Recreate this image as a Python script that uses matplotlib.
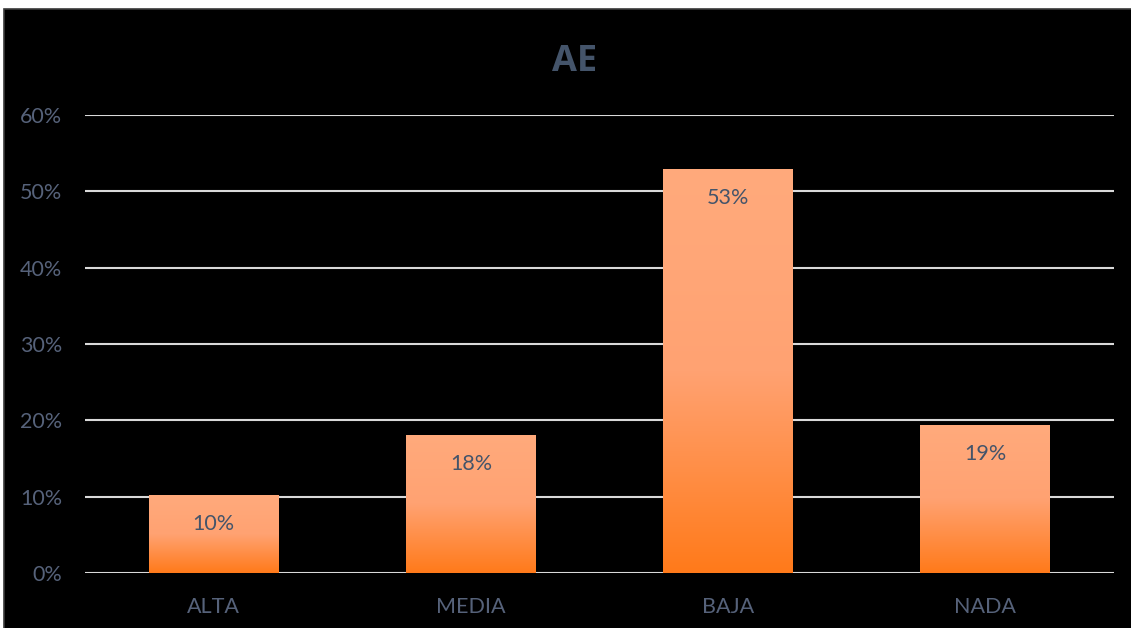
import numpy as np
import matplotlib
matplotlib.use("Agg")
import matplotlib.pyplot as plt
from matplotlib.colors import LinearSegmentedColormap
from matplotlib.patches import Rectangle
from matplotlib.ticker import FuncFormatter

# Data
categories = ["ALTA", "MEDIA", "BAJA", "NADA"]
values = [0.102, 0.181, 0.529, 0.194]
labels = ["10%", "18%", "53%", "19%"]
yticks = [0.0, 0.1, 0.2, 0.3, 0.4, 0.5, 0.6]

text_col = "#44546A"
tick_col = "#56627A"
grid_col = "#D9D9D9"
grad = LinearSegmentedColormap.from_list("orange_grad", ["#FF7A1A", "#FFA272", "#FFAA7C"])

plt.rcParams['font.family'] = ['Lato', 'DejaVu Sans']

fig = plt.figure(figsize=(11.31, 6.28), dpi=100)
fig.patch.set_facecolor("white")

# black chart area with thin grey edge (only top/left visible)
fig.patches.append(Rectangle((3.5 / 1131, -0.05), 1.1, 1.05 - 9.5 / 628, transform=fig.transFigure,
                             facecolor="black", edgecolor="#3A3A3A", linewidth=1.2, zorder=-10))

ax = fig.add_axes([85 / 1131, 1 - 573 / 628, (1114 - 85) / 1131, (573 - 115) / 628])
ax.set_facecolor("none")
ax.set_zorder(1)

x = np.arange(len(categories))
width = 0.505
bars = ax.bar(x, values, width=width, color="none", zorder=3)

# vertical gradient per bar
gradient = np.linspace(0, 1, 256).reshape(-1, 1)
for bar in bars:
    x0, w, h = bar.get_x(), bar.get_width(), bar.get_height()
    im = ax.imshow(gradient, cmap=grad, aspect="auto", origin="lower",
                   extent=[x0, x0 + w, 0, h], zorder=3)
    im.set_clip_path(bar)

for xi, v, lab in zip(x, values, labels):
    ax.annotate(lab, (xi, v), xytext=(0, -29), textcoords="offset pixels",
                ha="center", va="center", fontsize=15.5, color=text_col, zorder=4)

ax.set_xlim(-0.5, len(categories) - 0.5)
ax.set_ylim(0, 0.6)
ax.set_yticks(yticks)
ax.yaxis.set_major_formatter(FuncFormatter(lambda v, p: f"{v * 100:.0f}%"))
ax.set_xticks(x)
ax.set_xticklabels(categories)
ax.tick_params(axis="both", length=0, labelsize=15.5, colors=tick_col)
ax.tick_params(axis="y", pad=16.5)
ax.tick_params(axis="x", pad=17)

ax.grid(axis="y", color=grid_col, linewidth=1.5, zorder=1)
ax.set_axisbelow(True)
for s in ax.spines.values():
    s.set_visible(False)

fig.text(575 / 1131, 1 - 62 / 628, "AE", ha="center", va="center",
         fontsize=26, fontweight="bold", family=["Open Sans", "DejaVu Sans"], color=text_col)

fig.savefig("out.png", dpi=100, facecolor="white")
